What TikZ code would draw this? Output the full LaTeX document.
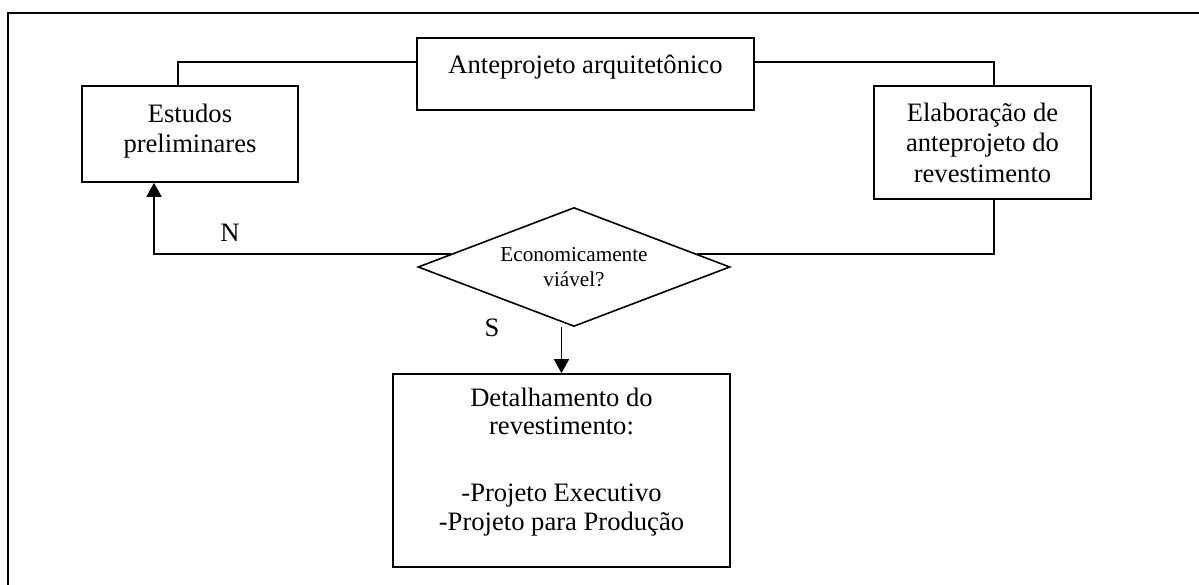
\documentclass[tikz,border=0pt]{standalone}
\usepackage{fontspec}
\setmainfont{Liberation Serif}
\usetikzlibrary{shapes.geometric,arrows.meta,calc}
\begin{document}
\begin{tikzpicture}[x=1pt,y=-1pt,
  conn/.style={line width=1.6pt},
  box/.style={draw,conn,align=center,inner sep=0pt,font=\fontsize{26.6}{30.5}\selectfont},
  lbl/.style={font=\fontsize{26.6}{30.5}\selectfont,inner sep=0pt},
  arr/.style={conn,-{Triangle[width=15pt,length=14pt]}}]
\useasboundingbox (0,0) rectangle (1199,585);
\draw[line width=1.8pt] (8.3,590) -- (8.3,13.3) -- (1205,13.3);
\node[box,minimum width=216pt,minimum height=96pt,text depth=11.8pt] (est) at (190,134) {Estudos\\preliminares};
\node[box,minimum width=337pt,minimum height=72pt,text depth=19.8pt] (ante) at (585.5,74) {Anteprojeto arquitetônico};
\node[box,minimum width=217pt,minimum height=113pt] (elab) at (982.5,142.5) {Elaboração de\\anteprojeto do\\revestimento};
\node[draw,conn,diamond,aspect=2.62,minimum width=312pt,minimum height=119pt,inner sep=0pt,align=center,font=\fontsize{21.2}{24.8}\selectfont] (d) at (574,267) {Economicamente\\viável?};
\node[box,minimum width=337pt,minimum height=193pt,text depth=22.8pt,font=\fontsize{26.6}{28.5}\selectfont] (det) at (561.5,470.5) {Detalhamento do\\revestimento:\\[38.5pt]-Projeto Executivo\\-Projeto para Produção};
\coordinate (dR) at ($(d.north)!0.783!(d.east)$);
\coordinate (dL) at ($(d.north)!0.783!(d.west)$);
\draw[conn] ([xshift=-12pt]est.north) |- ([yshift=12pt]ante.west);
\draw[conn] ([yshift=12pt]ante.east) -| ([xshift=11.5pt]elab.north);
\draw[conn] ([xshift=11.5pt]elab.south) |- (dR);
\draw[arr] (dL) -| ([xshift=-36pt]est.south);
\draw[arr] (d.south -| det.north) -- (det.north);
\node[lbl] (n) at (230,233) {N};
\node[lbl] (s) at (492,328) {S};
\end{tikzpicture}
\end{document}
